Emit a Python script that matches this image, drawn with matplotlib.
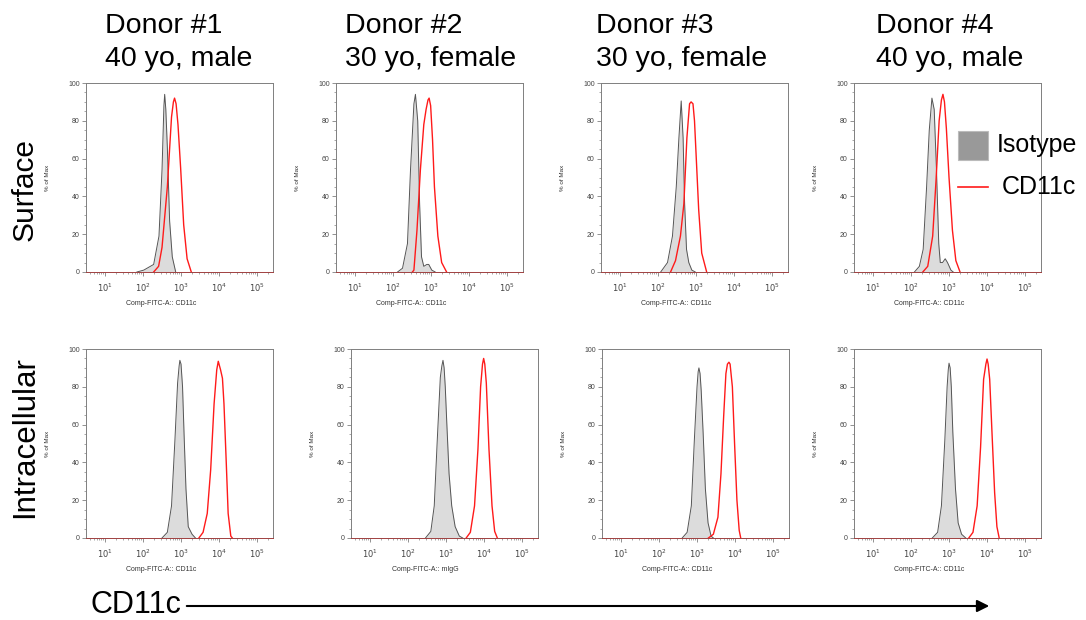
import numpy as np
import matplotlib
matplotlib.use('Agg')
import matplotlib.pyplot as plt
from matplotlib.patches import Rectangle, FancyArrowPatch
from matplotlib.lines import Line2D
from matplotlib.ticker import FixedLocator, LogLocator, MultipleLocator, NullFormatter

plt.rcParams['font.family'] = ['Liberation Sans', 'DejaVu Sans']

W, H = 1086, 620

donor_names = ["Donor #1", "Donor #2", "Donor #3", "Donor #4"]
donor_info = ["40 yo, male", "30 yo, female", "30 yo, female", "40 yo, male"]
rows = ["Surface", "Intracellular"]
xlabels = [["Comp-FITC-A:: CD11c"] * 4,
           ["Comp-FITC-A:: CD11c", "Comp-FITC-A:: mIgG", "Comp-FITC-A:: CD11c", "Comp-FITC-A:: CD11c"]]

# histogram outlines: log10 fluorescence, % of max
surf_iso_log = [
    [1.84, 2.02, 2.28, 2.42, 2.50, 2.55, 2.57, 2.60, 2.64, 2.70, 2.77, 2.86],
    [2.12, 2.25, 2.38, 2.46, 2.55, 2.59, 2.65, 2.70, 2.75, 2.81, 2.89, 2.94, 3.02, 3.11],
    [2.07, 2.25, 2.38, 2.48, 2.55, 2.61, 2.66, 2.70, 2.75, 2.81, 2.89, 2.98],
    [2.09, 2.22, 2.32, 2.41, 2.48, 2.55, 2.61, 2.67, 2.73, 2.77, 2.83, 2.90, 2.96, 3.05, 3.11],
]
surf_iso_pct = [
    [0, 1, 4, 19, 54, 88, 94, 86, 66, 27, 8, 0],
    [0, 2, 15, 54, 89, 94, 80, 36, 8, 3, 4, 4, 1, 0],
    [0, 5, 19, 45, 71, 90.5, 71, 36, 12, 5, 1, 0],
    [0, 3, 12, 45, 75, 92, 86, 54, 15, 5, 5, 7, 5, 1, 0],
]
surf_cd_log = [
    [2.28, 2.41, 2.50, 2.64, 2.75, 2.80, 2.83, 2.87, 2.92, 2.99, 3.07, 3.16, 3.27],
    [2.51, 2.55, 2.63, 2.72, 2.81, 2.87, 2.92, 2.95, 2.99, 3.04, 3.09, 3.18, 3.28, 3.41],
    [2.33, 2.46, 2.59, 2.68, 2.76, 2.83, 2.87, 2.92, 2.96, 3.00, 3.07, 3.15, 3.28],
    [2.31, 2.44, 2.57, 2.66, 2.74, 2.80, 2.84, 2.88, 2.93, 3.00, 3.09, 3.18, 3.29],
]
surf_cd_pct = [
    [0, 3, 13, 45, 82, 90, 92, 89, 78, 55, 25, 7, 0],
    [0, 1, 22, 54, 78, 86, 91, 92, 88, 70, 45, 19, 5, 0],
    [0, 6, 19, 36, 71, 89, 90, 89, 80, 63, 33, 10, 0],
    [0, 3, 19, 49, 80, 91, 94, 90, 76, 50, 22, 6, 0],
]
intra_iso_log = [
    [2.50, 2.64, 2.75, 2.84, 2.91, 2.95, 2.97, 3.00, 3.04, 3.08, 3.13, 3.19, 3.29, 3.38],
    [2.46, 2.60, 2.69, 2.77, 2.85, 2.89, 2.92, 2.95, 2.98, 3.02, 3.08, 3.15, 3.24, 3.35, 3.44],
    [2.61, 2.74, 2.85, 2.93, 3.00, 3.03, 3.05, 3.08, 3.11, 3.16, 3.22, 3.29, 3.37, 3.43],
    [2.56, 2.70, 2.80, 2.89, 2.95, 2.98, 3.00, 3.03, 3.06, 3.10, 3.17, 3.24, 3.33, 3.44],
]
intra_iso_pct = [
    [0, 3, 17, 52, 82, 91, 94, 92, 80, 55, 26, 6, 2, 0],
    [0, 3.5, 17, 52, 85, 91, 94, 90, 80, 61, 34, 17, 6, 1, 0],
    [0, 3, 17, 52, 80, 88, 90, 87, 78, 56, 26, 8, 1, 0],
    [0, 3, 17, 52, 80, 89, 92.5, 90, 80, 56, 26, 8, 2, 0],
]
intra_cd_log = [
    [3.47, 3.58, 3.69, 3.78, 3.87, 3.94, 3.98, 4.04, 4.09, 4.13, 4.19, 4.24, 4.31, 4.35],
    [3.53, 3.64, 3.75, 3.84, 3.91, 3.96, 3.99, 4.02, 4.06, 4.13, 4.21, 4.28, 4.35],
    [3.30, 3.43, 3.55, 3.63, 3.70, 3.76, 3.80, 3.84, 3.87, 3.93, 3.99, 4.05, 4.11, 4.15],
    [3.52, 3.63, 3.74, 3.83, 3.91, 3.97, 4.00, 4.03, 4.07, 4.13, 4.20, 4.26, 4.32],
]
intra_cd_pct = [
    [0, 3, 13, 36, 71, 89, 93.5, 89, 84.5, 71, 40, 13, 1, 0],
    [0, 3, 17, 47, 80, 92, 95, 92, 82, 47, 17, 3.5, 0],
    [0, 2, 11, 34, 64, 87, 92, 93, 92, 80, 49, 20, 4, 0],
    [0, 3, 17, 48, 84, 92, 94.7, 92, 84, 56, 24, 6, 0],
]

iso_log = [surf_iso_log, intra_iso_log]
iso_pct = [surf_iso_pct, intra_iso_pct]
cd_log = [surf_cd_log, intra_cd_log]
cd_pct = [surf_cd_pct, intra_cd_pct]

# panel placement in pixels
lefts = [[86, 336, 601, 854], [86, 351, 602, 854]]
tops = [83, 349]
pw, ph = 187, 189
header_x = [105, 345, 596, 876]

fig = plt.figure(figsize=(W / 100, H / 100), dpi=100)

for r in range(2):
    for c in range(4):
        ax = fig.add_axes([lefts[r][c] / W, 1 - (tops[r] + ph) / H, pw / W, ph / H])
        xi = 10 ** np.array(iso_log[r][c])
        xc = 10 ** np.array(cd_log[r][c])
        ax.fill_between(xi, iso_pct[r][c], color='#dcdcdc', lw=0)
        ax.plot(xi, iso_pct[r][c], color='#555555', lw=0.7)
        ax.plot(xc, cd_pct[r][c], color='#ff1a1a', lw=1.0)
        ax.set_xscale('log')
        ax.set_xlim(10 ** 0.5, 10 ** 5.42)
        ax.set_ylim(0, 100)
        ax.xaxis.set_major_locator(FixedLocator([10, 100, 1000, 1e4, 1e5]))
        ax.set_xticklabels(['$10^{1}$', '$10^{2}$', '$10^{3}$', '$10^{4}$', '$10^{5}$'])
        ax.xaxis.set_minor_locator(LogLocator(base=10, subs=np.arange(2, 10)))
        ax.xaxis.set_minor_formatter(NullFormatter())
        ax.yaxis.set_major_locator(MultipleLocator(20))
        ax.yaxis.set_minor_locator(MultipleLocator(5))
        ax.tick_params(axis='both', which='major', length=3, width=0.5, color='#666666',
                       labelcolor='#444444', pad=1.5)
        ax.tick_params(axis='x', which='major', labelsize=6, pad=4)
        ax.tick_params(axis='y', which='major', labelsize=5)
        ax.tick_params(axis='both', which='minor', length=1.5, width=0.4, color='#666666')
        for s in ax.spines.values():
            s.set_color('#7f7f7f')
            s.set_linewidth(0.7)
        ax.spines['bottom'].set_color('#a04040')
        ax.set_xlabel(xlabels[r][c], fontsize=5, color='#333333')
        ax.xaxis.set_label_coords(0.4, -0.15)
        ax.set_ylabel('% of Max', fontsize=4.5, color='#333333')
        ax.yaxis.set_label_coords(-0.19, 0.5)

# donor headers
for c in range(4):
    fig.text(header_x[c] / W, 1 - 33 / H, donor_names[c], fontsize=20.5, va='baseline', ha='left')
    fig.text(header_x[c] / W, 1 - 66 / H, donor_info[c], fontsize=20.5, va='baseline', ha='left')

# row labels
row_y = [190, 437]
row_size = [21.5, 22.5]
for r, txt in enumerate(rows):
    fig.text(25 / W, 1 - row_y[r] / H, txt, fontsize=row_size[r], rotation=90,
             va='center', ha='center')

# legend
fig.add_artist(Rectangle((958 / W, 1 - 160 / H), 30 / W, 29 / H, transform=fig.transFigure,
                         facecolor='#999999', edgecolor='#bbbbbb', lw=0.8))
fig.text(997 / W, 1 - 145 / H, 'Isotype', fontsize=18, va='center', ha='left')
fig.add_artist(Line2D([958 / W, 988 / W], [1 - 187 / H, 1 - 187 / H], transform=fig.transFigure,
                      color='#ff1a1a', lw=1.2))
fig.text(1002 / W, 1 - 187 / H, 'CD11c', fontsize=18, va='center', ha='left')

# bottom axis arrow
fig.text(90 / W, 1 - 605 / H, 'CD11c', fontsize=22, va='center', ha='left')
fig.add_artist(FancyArrowPatch((184 / W, 1 - 606 / H), (992 / W, 1 - 606 / H),
                               transform=fig.transFigure, arrowstyle='-|>', mutation_scale=18,
                               color='black', lw=1.5))

fig.savefig('out.png', dpi=100)
